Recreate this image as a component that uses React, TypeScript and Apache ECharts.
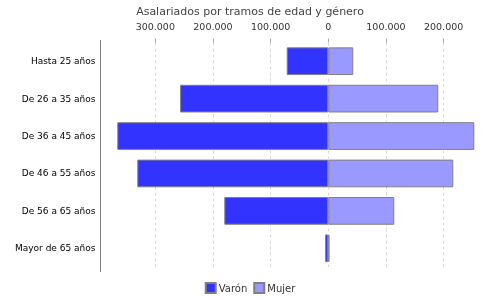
import React, { useEffect, useRef } from "react";
import * as echarts from "echarts";

const categories = [
  "Hasta 25 años",
  "De 26 a 35 años",
  "De 36 a 45 años",
  "De 46 a 55 años",
  "De 56 a 65 años",
  "Mayor de 65 años",
];
const varon = [72100, 257000, 365900, 331200, 180300, 5500];
const mujer = [43300, 190700, 253200, 216800, 114400, 2000];
const seriesNames = ["Varón", "Mujer"];

const fmt = (v: number) =>
  Math.abs(Math.round(v))
    .toString()
    .replace(/\B(?=(\d{3})+(?!\d))/g, ".");

export default function App() {
  const ref = useRef<HTMLDivElement>(null);
  useEffect(() => {
    if (!ref.current) return;
    const chart = echarts.init(ref.current, undefined, { renderer: "svg" });
    const font = "DejaVu Sans";
    chart.setOption({
      animation: false,
      title: {
        text: "Asalariados por tramos de edad y género",
        left: "center",
        top: 1,
        textStyle: { fontFamily: font, fontSize: 11, fontWeight: "normal", color: "#444" },
      },
      legend: {
        bottom: 1,
        left: "center",
        itemWidth: 10,
        itemHeight: 10,
        itemGap: 6,
        icon: "rect",
        textStyle: { fontFamily: font, fontSize: 10, color: "#333", padding: [0, 0, 0, -2] },
        data: seriesNames,
      },
      grid: { left: 100.5, right: 23.5, top: 42.5, height: 224.5 },
      xAxis: {
        type: "value",
        position: "top",
        min: -395000,
        max: 257000,
        axisLine: { show: false },
        axisTick: { show: true, length: 4, lineStyle: { color: "#aaa" } },
        axisLabel: {
          fontFamily: font,
          fontSize: 9.5,
          color: "#333",
          margin: 11,
          showMinLabel: false,
          showMaxLabel: false,
          formatter: (v: number) => fmt(v),
        },
        splitLine: {
          show: true,
          showMinLine: false,
          showMaxLine: false,
          lineStyle: { color: "#d8d8d8", type: [3, 3] },
        },
      },
      yAxis: {
        type: "category",
        inverse: true,
        data: categories,
        axisLine: { show: false },
        axisTick: { show: false },
        axisLabel: { fontFamily: font, fontSize: 9, color: "#000", margin: 5 },
      },
      graphic: [
        {
          type: "line",
          shape: { x1: 100.5, y1: 40, x2: 100.5, y2: 272 },
          style: { stroke: "#808080", lineWidth: 1 },
          z: 10,
        },
      ],
      series: [
        {
          name: seriesNames[0],
          type: "bar",
          stack: "total",
          data: varon.map((v) => -v),
          barCategoryGap: "26%",
          itemStyle: { color: "#3333ff", borderColor: "#808080", borderWidth: 1 },
        },
        {
          name: seriesNames[1],
          type: "bar",
          stack: "total",
          data: mujer,
          barCategoryGap: "26%",
          itemStyle: { color: "#9999ff", borderColor: "#808080", borderWidth: 1 },
        },
      ],
    });
    return () => chart.dispose();
  }, []);
  return (
    <div
      ref={ref}
      style={{ position: "fixed", left: 0, top: 0, width: 500, height: 300 }}
    />
  );
}
